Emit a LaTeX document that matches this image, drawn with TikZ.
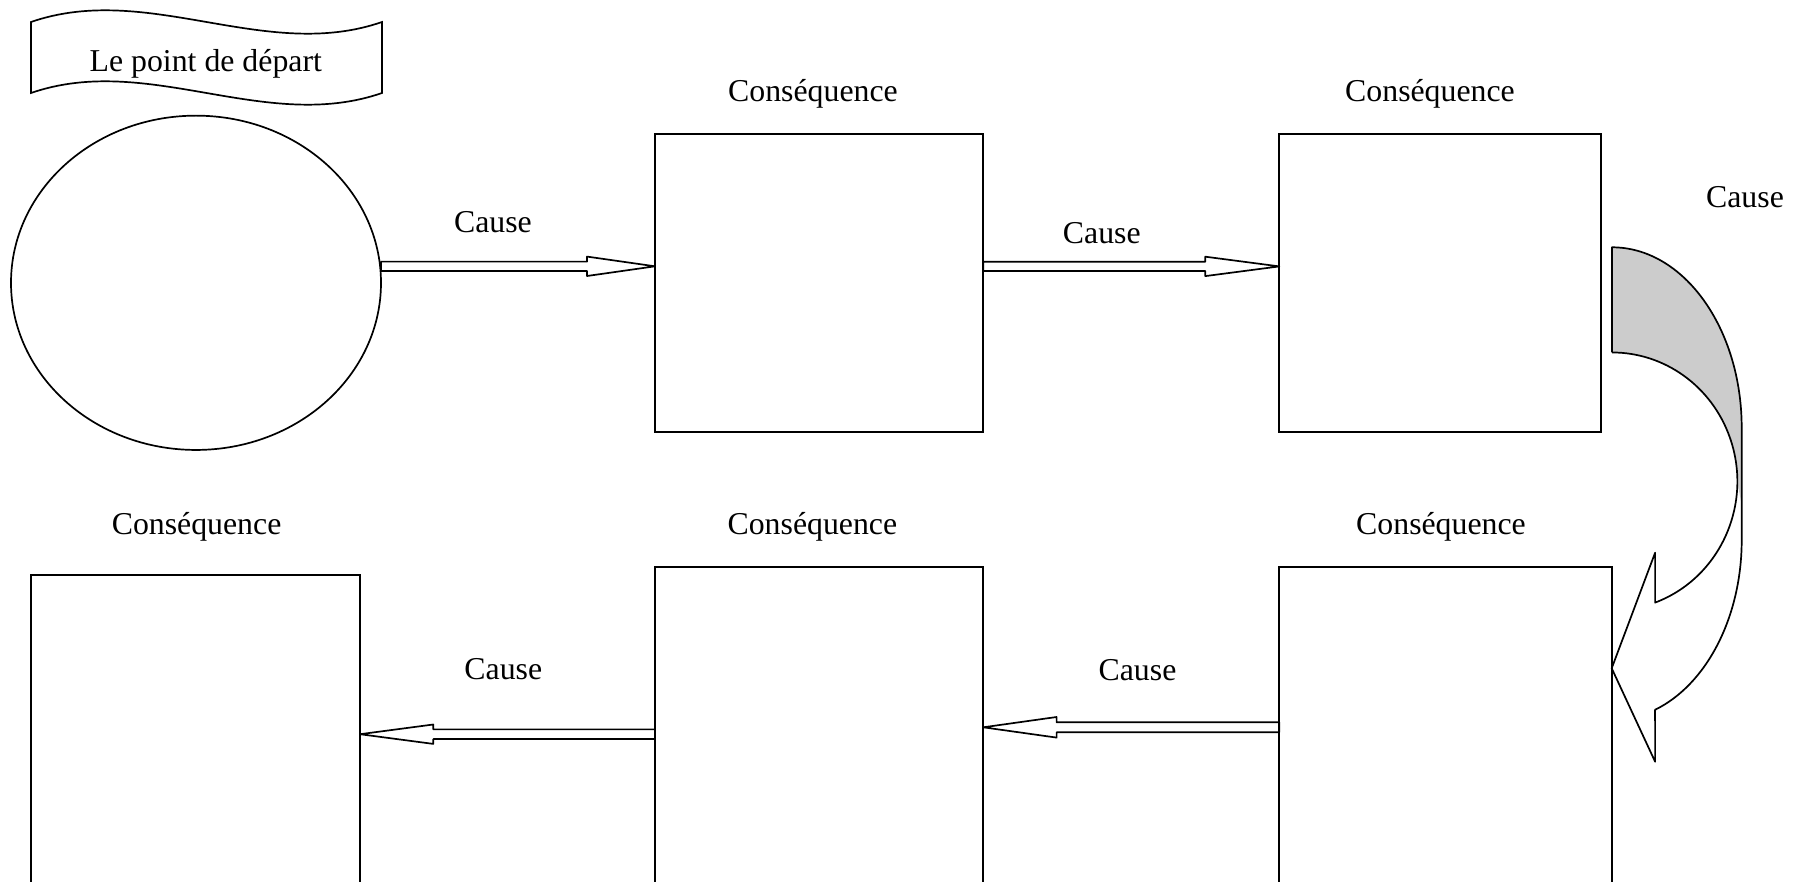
\documentclass[tikz,border=0pt]{standalone}
\usepackage{fontspec}
\setmainfont{Liberation Serif}
\usetikzlibrary{calc,shapes.geometric}
\tikzset{
  box/.style={draw, rectangle, inner sep=0pt, outer sep=0pt, anchor=north west, fill=white},
  lbl/.style={font=\fontsize{31.8pt}{38pt}\selectfont, anchor=base, inner sep=0pt},
  blockarrow/.style n args={3}{line join=round, to path={
    let \p1=(\tikztostart), \p2=(\tikztotarget), \n1={ifthenelse(\x2>\x1,1,-1)} in
    ({\x1},{\y1+#1}) -- ({\x2-(\n1)*#3},{\y1+#1}) -- ({\x2-(\n1)*#3},{\y1+#2}) -- ({\x2},{\y1})
    -- ({\x2-(\n1)*#3},{\y1-#2}) -- ({\x2-(\n1)*#3},{\y1-#1}) -- ({\x1},{\y1-#1}) -- cycle}}
}
\begin{document}
\begin{tikzpicture}[x=1pt,y=1pt,line width=1.7pt,line join=miter]
\clip (0,0) rectangle (1808,-882);
\fill[white] (0,0) rectangle (1808,-882);

% banner
\draw (31,-22) .. controls (148,18.5) and (265,-62.5) .. (382,-22)
  -- (382,-93) .. controls (265,-133.5) and (148,-52.5) .. (31,-93) -- cycle;
\node[lbl] (t0) at (205.8,-71.7) {Le point de départ};

% start ellipse
\node[draw, ellipse, inner sep=0pt, outer sep=0pt, minimum width=370pt, minimum height=334.3pt] (ell) at (196,-282.8) {};

% boxes
\node[box, minimum width=328.3pt, minimum height=298pt] (b1) at (655,-134) {};
\node[box, minimum width=321.7pt, minimum height=297.7pt] (b2) at (1279.3,-134) {};
\node[box, minimum width=332.4pt, minimum height=400pt] (b3) at (1279.3,-567.3) {};
\node[box, minimum width=328.3pt, minimum height=400pt] (b4) at (655,-567) {};
\node[box, minimum width=329pt, minimum height=400pt] (b5) at (31,-575) {};

% labels
\node[lbl] (c1) at (813,-101.7) {Conséquence};
\node[lbl] (c2) at (1430,-101.7) {Conséquence};
\node[lbl] (c3) at (1441,-534) {Conséquence};
\node[lbl] (c4) at (812.4,-534) {Conséquence};
\node[lbl] (c5) at (196.6,-534) {Conséquence};
\node[lbl] (k1) at (493,-233) {Cause};
\node[lbl] (k2) at (1101.8,-243.4) {Cause};
\node[lbl] (k3) at (1745,-208) {Cause};
\node[lbl] (k4) at (503.3,-679.3) {Cause};
\node[lbl] (k5) at (1137.5,-680.4) {Cause};

% straight block arrows
\draw[blockarrow={4.65pt}{9.7pt}{68pt}] ([yshift=16.5pt]ell.east) to ([yshift=16.7pt]b1.west);
\draw[blockarrow={4.65pt}{9.7pt}{74pt}] ([yshift=16.6pt]b1.east) to ([yshift=16.6pt]b2.west);
\draw[blockarrow={5pt}{10.3pt}{73.3pt}] ([yshift=-160pt]b3.north west) to ([yshift=-160.3pt]b4.north east);
\draw[blockarrow={4.85pt}{9.7pt}{73.3pt}] ([yshift=-167.2pt]b4.north west) to ([yshift=-159.2pt]b5.north east);

% curved arrow from b2 to b3
\fill[gray!40] (1612,-247.3) arc[start angle=90,end angle=0,x radius=129.7,y radius=180.7]
  -- (1741.7,-505) -- (1737.3,-481.5)
  arc[start angle=0,end angle=90,x radius=125.3,y radius=129] -- cycle;
\draw[line join=round] (1612,-352.5) -- (1612,-247.3)
  arc[start angle=90,end angle=0,x radius=129.7,y radius=180.7]
  -- (1741.7,-540)
  arc[start angle=0,end angle=-70.6,x radius=129.7,y radius=180]
  -- (1655.1,-761.7) -- (1611.7,-668.3) -- (1655.1,-552.7) -- (1655.1,-602.6)
  arc[start angle=-69.9,end angle=90,x radius=125.3,y radius=129];
\end{tikzpicture}
\end{document}
